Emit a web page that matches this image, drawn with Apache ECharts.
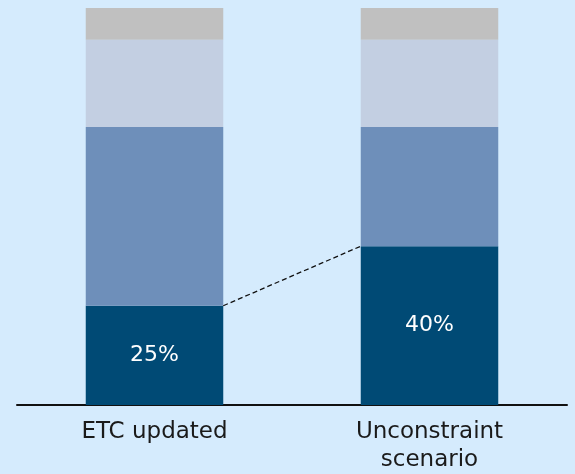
<!DOCTYPE html>
<html>
<head>
<meta charset="utf-8">
<script src="https://cdn.jsdelivr.net/npm/echarts@6/dist/echarts.min.js"></script>
<style>
  html, body { margin: 0; padding: 0; background: #D5EBFD; }
  #chart { width: 575px; height: 474px; }
</style>
</head>
<body>
<div id="chart"></div>
<script>
// Scenario categories and stacked shares (percent of total)
const categories = ['ETC updated', 'Unconstraint\nscenario'];
const shareDark = [25, 40];
const shareMid = [45, 30];
const shareLight = [22, 22];
const shareGrey = [8, 8];

const FONT = '"DejaVu Sans", sans-serif';
const chart = echarts.init(document.getElementById('chart'));

function seg(name, data, color, label) {
  return {
    name: name,
    type: 'bar',
    stack: 'total',
    data: data,
    barWidth: '50%',
    itemStyle: { color: color },
    label: label ? {
      show: true,
      position: 'inside',
      formatter: '{c}%',
      color: '#ffffff',
      fontSize: 22,
      fontFamily: FONT
    } : { show: false },
    emphasis: { disabled: true },
    z: 2
  };
}

chart.setOption({
  backgroundColor: '#D5EBFD',
  animation: false,
  grid: { left: 17, right: 8, top: 8, bottom: 66, containLabel: false },
  xAxis: {
    type: 'category',
    data: categories,
    axisLine: { show: true, lineStyle: { color: '#111111', width: 2 } },
    axisTick: { show: false },
    axisLabel: {
      color: '#1a1a1a',
      fontSize: 23,
      fontFamily: FONT,
      lineHeight: 28,
      margin: 13,
      interval: 0
    }
  },
  yAxis: {
    type: 'value',
    min: 0,
    max: 100,
    show: false,
    splitLine: { show: false }
  },
  series: [
    seg('dark', shareDark, '#004A75', true),
    seg('mid', shareMid, '#6E8FBA', false),
    seg('light', shareLight, '#C3CFE2', false),
    seg('grey', shareGrey, '#C0C0C0', false),
    {
      // dashed connector between the tops of the dark segments
      type: 'custom',
      data: [[0, shareDark[0], 1, shareDark[1]]],
      renderItem: function (params, api) {
        const p1 = api.coord([api.value(0), api.value(1)]);
        const p2 = api.coord([api.value(2), api.value(3)]);
        const half = api.size([1, 0])[0] * 0.25;
        return {
          type: 'line',
          shape: { x1: p1[0] + half, y1: p1[1], x2: p2[0] - half, y2: p2[1] },
          style: { stroke: '#111111', lineWidth: 1.3, lineDash: [5, 3] }
        };
      },
      z: 3,
      silent: true
    }
  ]
});
</script>
</body>
</html>
